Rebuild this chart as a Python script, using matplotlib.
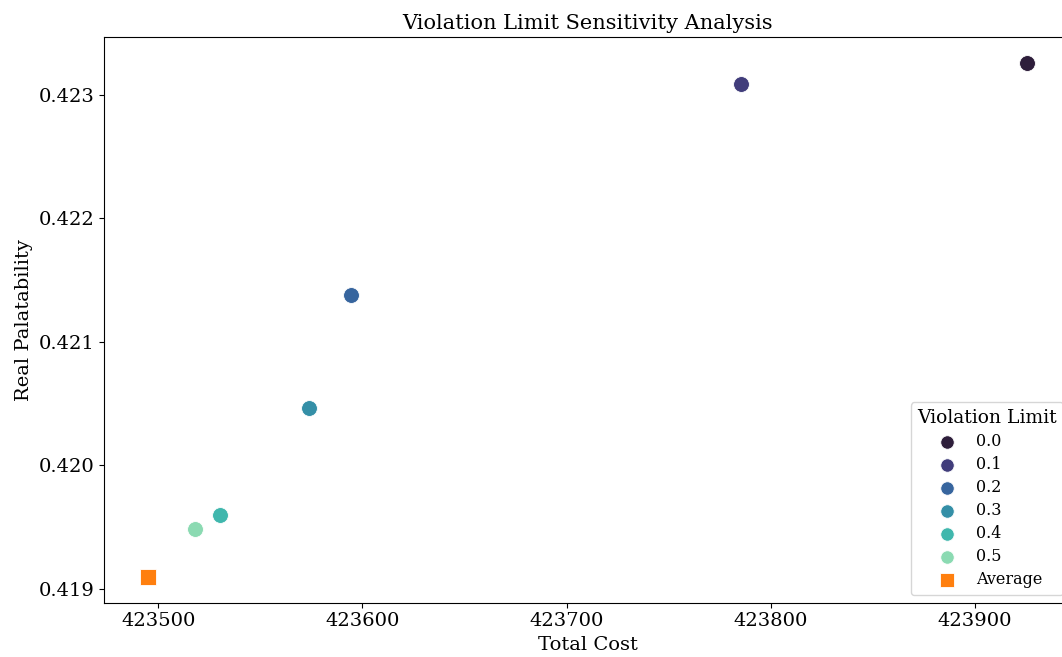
import matplotlib
matplotlib.use("Agg")
import matplotlib.pyplot as plt
import seaborn as sns
import numpy as np

plt.rcParams['font.family'] = ['DejaVu Serif']

# values
limits = ["0.0", "0.1", "0.2", "0.3", "0.4", "0.5"]
total_cost = [423925.5, 423785.6, 423594.3, 423573.8, 423530.2, 423518.0]
palatability = [0.423259, 0.423089, 0.421380, 0.420462, 0.419599, 0.419486]
avg_cost = 423495.0
avg_pal = 0.419097

colors = sns.color_palette("mako", len(limits))

fig = plt.figure(figsize=(10.62, 6.57), dpi=100)
ax = fig.add_axes([104 / 1062, 1 - 602.7 / 657, (1071 - 104) / 1062, (602.7 - 37.3) / 657])

for lab, x, y, c in zip(limits, total_cost, palatability, colors):
    ax.scatter(x, y, s=130, color=c, label=lab, edgecolors="white", linewidths=0.6)
ax.scatter(avg_cost, avg_pal, s=130, color="#ff7f0e", marker="s", label="Average",
           edgecolors="white", linewidths=0.6)

ax.set_xticks([423500, 423600, 423700, 423800, 423900])
ax.set_yticks([0.419, 0.420, 0.421, 0.422, 0.423])
ax.tick_params(labelsize=14)
ax.set_xlabel("Total Cost", fontsize=14)
ax.set_ylabel("Real Palatability", fontsize=14)
ax.set_title("Violation Limit Sensitivity Analysis", fontsize=15)

ax.legend(title="Violation Limit", loc="lower right", fontsize=11.5, title_fontsize=13.5,
          markerscale=0.85, labelspacing=0.38)

fig.savefig("out.png", dpi=100)
